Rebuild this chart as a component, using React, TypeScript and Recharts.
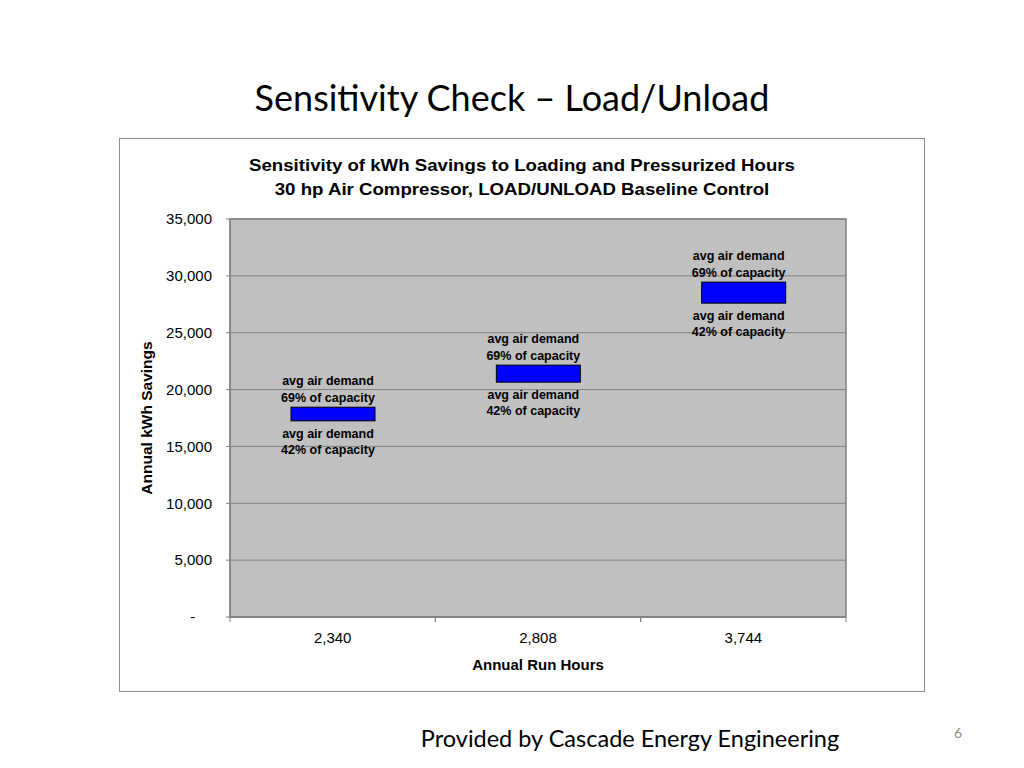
import { BarChart, Bar, XAxis, YAxis, CartesianGrid, ReferenceArea } from 'recharts';

const runHours = ['2,340', '2,808', '3,744'];
const lowSavings = [17250, 20650, 27600];
const highSavings = [18450, 22150, 29450];
const yTicks = [0, 5000, 10000, 15000, 20000, 25000, 30000, 35000];
const highLabel = ['avg air demand', '69% of capacity'];
const lowLabel = ['avg air demand', '42% of capacity'];

const chartData = runHours.map((h, i) => ({
  hours: h,
  range: [lowSavings[i], highSavings[i]],
}));

const font = 'Arial, "Liberation Sans", sans-serif';
const labelStyle = { fontFamily: font, fontWeight: 700, fontSize: 12.5, fill: '#000' };

// box plus the two text notes above and below it
const RangeBox = (props: any) => {
  const { x, y, width, height } = props;
  const top = Math.min(y, y + height);
  const h = Math.abs(height);
  const cx = x + width / 2 - 5;
  return (
    <g>
      <rect x={x} y={top} width={width} height={h} fill="#0000ff" stroke="#000" strokeWidth={1} />
      <text x={cx} y={top - 22} textAnchor="middle" style={labelStyle}>{highLabel[0]}</text>
      <text x={cx} y={top - 5} textAnchor="middle" style={labelStyle}>{highLabel[1]}</text>
      <text x={cx} y={top + h + 17} textAnchor="middle" style={labelStyle}>{lowLabel[0]}</text>
      <text x={cx} y={top + h + 33} textAnchor="middle" style={labelStyle}>{lowLabel[1]}</text>
    </g>
  );
};

const HourTick = (props: any) => {
  const { x, y, payload } = props;
  const off = payload.offset ?? 0;
  return (
    <g>
      <line x1={x - off} y1={y} x2={x - off} y2={y + 5} stroke="#808080" />
      <line x1={x + off} y1={y} x2={x + off} y2={y + 5} stroke="#808080" />
      <text x={x} y={y + 26} textAnchor="middle" fontFamily={font} fontSize={15} fill="#000">
        {payload.value}
      </text>
    </g>
  );
};

export default function App() {
  return (
    <div style={{ position: 'absolute', left: 0, top: 0, width: 1024, height: 768, background: '#fff', overflow: 'hidden' }}>
      <div
        style={{
          position: 'absolute', left: 0, top: 72, width: 1024, textAlign: 'center',
          fontFamily: 'Lato, "Open Sans", sans-serif', fontSize: 36, lineHeight: '50px', color: '#000',
        }}
      >
        Sensitivity Check – Load/Unload
      </div>

      <div
        style={{
          position: 'absolute', left: 119, top: 138, width: 804, height: 552,
          border: '1px solid #8c8c8c', background: '#fff',
        }}
      >
        <div
          style={{
            position: 'absolute', left: 0, top: 14, width: 804, textAlign: 'center',
            fontFamily: font, fontWeight: 700, fontSize: 16.5, lineHeight: '24px',
            transform: 'scaleX(1.13)', transformOrigin: '402px 0',
          }}
        >
          Sensitivity of kWh Savings to Loading and Pressurized Hours
          <br />
          30 hp Air Compressor, LOAD/UNLOAD Baseline Control
        </div>
        <div style={{ position: 'absolute', left: 0, top: 0 }}>
          <BarChart width={804} height={552} data={chartData} margin={{ top: 80, right: 78, bottom: 0, left: 0 }}>
            <CartesianGrid vertical={false} stroke="#808080" fill="#c0c0c0" />
            <ReferenceArea y1={0} y2={35000} fill="none" stroke="#808080" strokeWidth={1.5} />
            <XAxis
              dataKey="hours"
              height={74}
              tickSize={0}
              tickMargin={0}
              tickLine={false}
              axisLine={{ stroke: '#808080' }}
              tick={<HourTick />}
              label={{
                value: 'Annual Run Hours', position: 'insideBottom', offset: 21,
                style: { fontFamily: font, fontWeight: 700, fontSize: 15, fill: '#000' },
              }}
            />
            <YAxis
              width={110}
              domain={[0, 35000]}
              ticks={yTicks}
              interval={0}
              tickSize={4}
              tickMargin={14}
              tickLine={{ stroke: '#808080' }}
              axisLine={{ stroke: '#808080' }}
              tick={{ fontFamily: font, fontSize: 15, fill: '#000' }}
              tickFormatter={(v: number) => (v === 0 ? '-\u00a0\u00a0\u00a0\u00a0' : v.toLocaleString('en-US'))}
              label={{
                value: 'Annual kWh Savings', angle: -90, position: 'insideLeft', offset: 26,
                style: { textAnchor: 'middle', fontFamily: font, fontWeight: 700, fontSize: 15.5, fill: '#000' },
              }}
            />
            <Bar dataKey="range" barSize={84} shape={<RangeBox />} isAnimationActive={false} />
          </BarChart>
        </div>
      </div>

      <div
        style={{
          position: 'absolute', left: 330, top: 723, width: 600, textAlign: 'center',
          fontFamily: 'Lato, "Open Sans", sans-serif', fontSize: 23.5, lineHeight: '30px', color: '#000',
        }}
      >
        Provided by Cascade Energy Engineering
      </div>
      <div
        style={{
          position: 'absolute', left: 940, top: 724, width: 36, textAlign: 'center',
          fontFamily: 'Lato, "Open Sans", sans-serif', fontSize: 14, lineHeight: '18px', color: '#8c8c8c',
        }}
      >
        6
      </div>
    </div>
  );
}
